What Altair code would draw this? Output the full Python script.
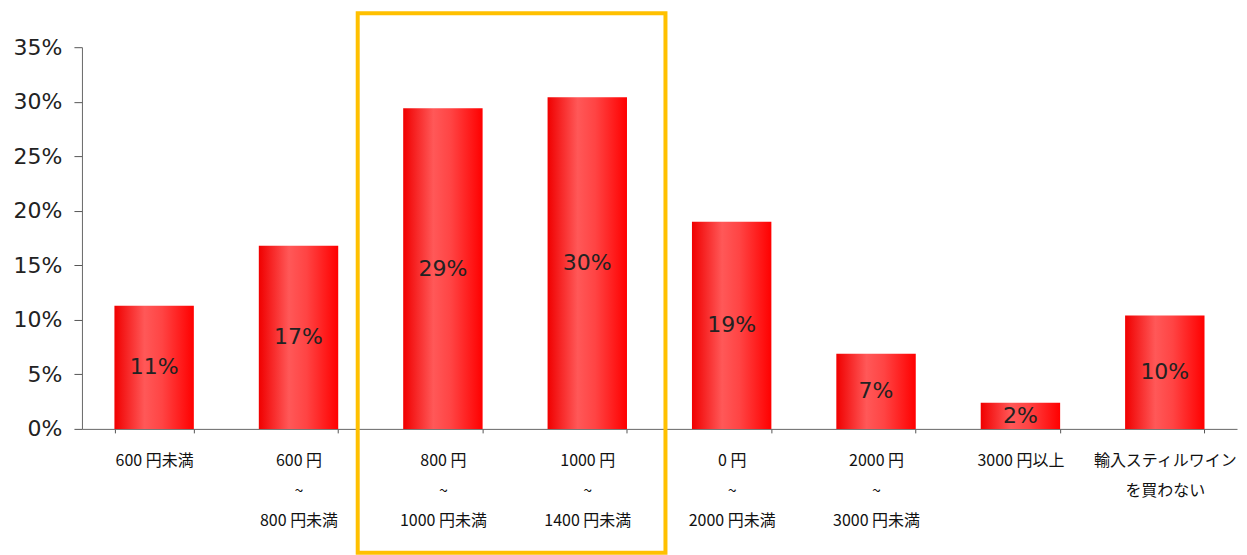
import altair as alt
import pandas as pd

categories = [
    "600 円未満",
    "600 円\n~\n800 円未満",
    "800 円\n~\n1000 円未満",
    "1000 円\n~\n1400 円未満",
    "0 円\n~\n2000 円未満",
    "2000 円\n~\n3000 円未満",
    "3000 円以上",
    "輸入スティルワイン\nを買わない",
]
values = [0.113, 0.168, 0.294, 0.304, 0.19, 0.069, 0.024, 0.104]
value_labels = ["11%", "17%", "29%", "30%", "19%", "7%", "2%", "10%"]

df = pd.DataFrame({"cat": categories, "val": values, "lab": value_labels})
df["mid"] = df["val"] / 2

W, H = 1156, 382

xscale = alt.Scale(domain=categories, paddingInner=0.45, paddingOuter=0.225)
yscale = alt.Scale(domain=[0, 0.35])

grad = alt.Gradient(
    gradient="linear",
    stops=[
        alt.GradientStop(color="#f00000", offset=0),
        alt.GradientStop(color="#ff5858", offset=0.38),
        alt.GradientStop(color="#ff4444", offset=0.6),
        alt.GradientStop(color="#ff0000", offset=1),
    ],
    x1=0, x2=1, y1=0, y2=0,
)

x_axis = alt.Axis(
    labelAngle=0,
    labelExpr="split(datum.label, '\\n')",
    labelFont="Noto Sans CJK JP",
    labelFontSize=16,
    labelColor="#111",
    labelLineHeight=30,
    labelBaseline="top",
    labelPadding=20,
    tickBand="extent",
    tickSize=4,
    tickColor="#555",
    domainColor="#666",
    labelLimit=220,
    grid=False,
)
y_axis = alt.Axis(
    values=[0, 0.05, 0.1, 0.15, 0.2, 0.25, 0.3, 0.35],
    format=".0%",
    grid=False,
    labelFont="DejaVu Sans",
    labelFontSize=22,
    labelColor="#222",
    labelPadding=12,
    ticks=True,
    tickSize=8,
    tickWidth=1,
    tickColor="#555",
    domainColor="#666",
)

base = alt.Chart(df)

bars = base.mark_bar(fill=grad).encode(
    x=alt.X("cat:N", scale=xscale, sort=categories, title=None, axis=x_axis),
    y=alt.Y("val:Q", scale=yscale, title=None, axis=y_axis),
)

texts = base.mark_text(
    font="DejaVu Sans", fontSize=22, color="#222", baseline="middle"
).encode(
    x=alt.X("cat:N", scale=xscale, sort=categories, title=None, axis=x_axis),
    y=alt.Y("mid:Q", scale=yscale, title=None, axis=y_axis),
    text="lab:N",
)

highlight = alt.Chart(pd.DataFrame({"a": [1]})).mark_rect(
    fill=None, stroke="#FFC000", strokeWidth=4, clip=False
).encode(
    x=alt.value(276), x2=alt.value(584), y=alt.value(-34), y2=alt.value(506)
)

chart = (
    alt.layer(bars, texts, highlight)
    .properties(
        width=W,
        height=H,
        background="white",
        autosize=alt.AutoSizeParams(type="none"),
        padding={"left": 74, "top": 39, "right": 2, "bottom": 126},
    )
    .configure_view(strokeWidth=0, stroke=None)
)

chart.save("out.html", embed_options={"renderer": "svg", "actions": False})
